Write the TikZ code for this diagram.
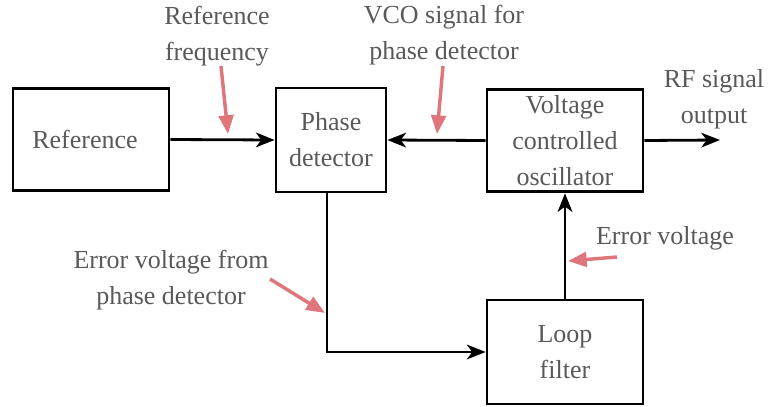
\documentclass[tikz,border=0pt]{standalone}
\usepackage{fontspec}
\setmainfont{Liberation Serif}
\usetikzlibrary{arrows.meta}

\definecolor{txtgray}{RGB}{89,89,89}
\definecolor{notepink}{RGB}{222,118,124}

\tikzset{every picture/.style={line width=2.1pt}}
\tikzset{
  blockbox/.style={draw=black, rectangle, inner sep=0pt, align=center, text=txtgray,
    font=\fontsize{19.5}{27}\selectfont},
  notetext/.style={align=center, text=txtgray, inner sep=0.75pt,
    font=\fontsize{19.5}{27}\selectfont},
  sigline/.style={draw=black, line width=2.1pt, -{Stealth[length=14pt, width=11pt, inset=4pt]}},
  notearrow/.style={draw=notepink, line width=2.6pt, -{Triangle[length=14pt, width=11pt]}}
}

\begin{document}
\begin{tikzpicture}[x=0.75pt,y=0.75pt,yscale=-1,xscale=1]
\useasboundingbox (0,0) rectangle (769,407);

%Shape: Rectangle [id:ref]
\node [blockbox, minimum width=117pt, minimum height=77pt] (ref) at (91,139.5) {Reference\hspace{9pt}};
%Shape: Rectangle [id:pd]
\node [blockbox, minimum width=82.5pt, minimum height=78pt] (pd) at (331,140) {Phase\\detector};
%Shape: Rectangle [id:vco]
\node [blockbox, minimum width=117pt, minimum height=77pt] (vco) at (565,140.5) {Voltage\\controlled\\oscillator};
%Shape: Rectangle [id:lf]
\node [blockbox, minimum width=117pt, minimum height=78pt] (lf) at (565,352) {Loop\\filter};

\coordinate (rfout) at (720,140);
\coordinate (pdout) at (327,192);

%Straight Lines
\draw [sigline] (ref.east) -- (pd.west);
\draw [sigline] (vco.west) -- (pd.east);
\draw [sigline] (vco.east) -- (rfout);
\draw [sigline] (pdout) -- (pdout |- lf.west) -- (lf.west);
\draw [sigline] (lf.north) -- (vco.south);

% Text Node
\node [notetext] (reffreq) at (217,36) {Reference\\frequency};
% Text Node
\node [notetext] (vcosig) at (444,35) {VCO signal for\\phase detector};
% Text Node
\node [notetext] (rftext) at (714,99) {RF signal\\output};
% Text Node
\node [notetext] (errv) at (665,238) {Error voltage};
% Text Node
\node [notetext] (errpd) at (171,280) {Error voltage from\\phase detector};

%Pointers
\coordinate (p1s) at (221,66);   \coordinate (p1e) at (228,134);
\coordinate (p2s) at (443,66);   \coordinate (p2e) at (437,134);
\coordinate (p3s) at (270,279);  \coordinate (p3e) at (325,313);
\coordinate (p4s) at (617,257);  \coordinate (p4e) at (568,261);
\draw [notearrow] (p1s) -- (p1e);
\draw [notearrow] (p2s) -- (p2e);
\draw [notearrow] (p3s) -- (p3e);
\draw [notearrow] (p4s) -- (p4e);

\end{tikzpicture}
\end{document}
